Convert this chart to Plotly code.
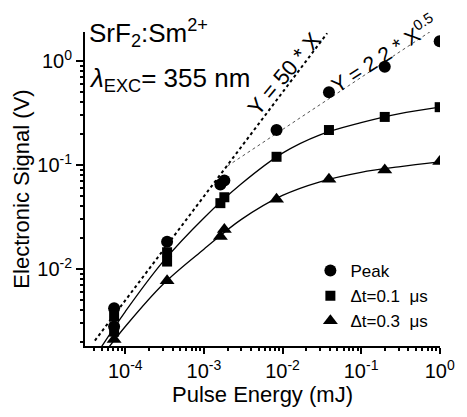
import plotly.graph_objects as go

# ---- data ----
peak_x = [7.2e-5, 7.2e-5, 3.4e-4, 1.62e-3, 1.82e-3, 8.4e-3, 0.039, 0.2, 1.0]
peak_y = [0.0042, 0.0028, 0.0183, 0.065, 0.071, 0.217, 0.50, 0.88, 1.55]

sq_x = [7.2e-5, 7.2e-5, 3.4e-4, 3.4e-4, 1.62e-3, 1.82e-3, 8.4e-3, 0.039, 0.2, 1.0]
sq_y = [0.0035, 0.0025, 0.0145, 0.0118, 0.043, 0.049, 0.12, 0.217, 0.29, 0.36]

tri_x = [7.2e-5, 3.4e-4, 1.62e-3, 1.82e-3, 8.4e-3, 0.039, 0.2, 1.0]
tri_y = [0.0021, 0.0077, 0.0205, 0.024, 0.047, 0.073, 0.0895, 0.108]

# fitted curves
fit_sq_x = [5.0e-5, 1e-4, 3e-4, 1e-3, 3e-3, 1e-2, 3e-2, 1e-1, 3e-1, 1.0]
fit_sq_y = [0.0018, 0.0039, 0.0117, 0.031, 0.066, 0.13, 0.195, 0.255, 0.31, 0.36]

fit_tri_x = [6.2e-5, 1e-4, 3e-4, 1e-3, 3e-3, 1e-2, 3e-2, 1e-1, 3e-1, 1.0]
fit_tri_y = [0.00178, 0.0028, 0.0071, 0.0155, 0.030, 0.051, 0.069, 0.085, 0.096, 0.107]

lin_x = [4.1e-5, 0.037]      # Y = 50 * X
lin_y = [0.00205, 1.85]
sqrt_x = [2.0e-3, 0.8]       # Y = 2.2 * X^0.5
sqrt_y = [0.098, 1.97]

x_ticks = [1e-4, 1e-3, 1e-2, 1e-1, 1.0]
x_tick_text = ["10<sup>-4</sup>", "10<sup>-3</sup>", "10<sup>-2</sup>", "10<sup>-1</sup>", "10<sup>0</sup>"]
y_ticks = [1e-2, 1e-1, 1.0]
y_tick_text = ["10<sup>-2</sup>", "10<sup>-1</sup>", "10<sup>0</sup>"]

FONT = "Liberation Sans, Arial, sans-serif"

fig = go.Figure()

fig.add_trace(go.Scatter(x=lin_x, y=lin_y, mode="lines",
                         line=dict(color="black", width=2, dash="dot"), showlegend=False))
fig.add_trace(go.Scatter(x=sqrt_x, y=sqrt_y, mode="lines",
                         line=dict(color="#555555", width=1, dash="dot"), showlegend=False))
fig.add_trace(go.Scatter(x=fit_sq_x, y=fit_sq_y, mode="lines", line_shape="spline",
                         line=dict(color="black", width=1.3), showlegend=False))
fig.add_trace(go.Scatter(x=fit_tri_x, y=fit_tri_y, mode="lines", line_shape="spline",
                         line=dict(color="black", width=1.3), showlegend=False))

fig.add_trace(go.Scatter(x=peak_x, y=peak_y, mode="markers", name="Peak",
                         marker=dict(symbol="circle", size=12, color="black")))
fig.add_trace(go.Scatter(x=sq_x, y=sq_y, mode="markers", name="\u0394t=0.1  \u03bcs",
                         marker=dict(symbol="square", size=10, color="black")))
fig.add_trace(go.Scatter(x=tri_x, y=tri_y, mode="markers", name="\u0394t=0.3  \u03bcs",
                         marker=dict(symbol="triangle-up", size=13, color="black")))

L, R, T, B = 85, 452, 32, 346
W, H = 467, 417


def px(xp):
    return (xp - L) / (R - L)


def py(yp):
    return (B - yp) / (B - T)


fig.update_layout(
    width=W, height=H,
    margin=dict(l=L, r=W - R, t=T, b=H - B),
    paper_bgcolor="white", plot_bgcolor="white",
    font=dict(family=FONT, color="black", size=19),
    xaxis=dict(type="log", range=[-4.513, 0.004],
               tickmode="array", tickvals=x_ticks, ticktext=x_tick_text,
               ticks="outside", ticklen=6, tickwidth=1.5, tickcolor="black",
               showline=True, linecolor="black", linewidth=2, mirror=False,
               showgrid=False, zeroline=False,
               minor=dict(ticks="outside", ticklen=3, tickcolor="black", dtick="D1", showgrid=False),
               tickfont=dict(size=20),
               title=dict(text="Pulse Energy (mJ)", font=dict(size=22), standoff=6)),
    yaxis=dict(type="log", range=[-2.74, 0.279],
               tickmode="array", tickvals=y_ticks, ticktext=y_tick_text,
               ticks="outside", ticklen=7, tickwidth=1.5, tickcolor="black",
               showline=True, linecolor="black", linewidth=2, mirror=False,
               showgrid=False, zeroline=False,
               minor=dict(ticks="outside", ticklen=3, tickcolor="black", dtick="D1", showgrid=False),
               tickfont=dict(size=20),
               title=dict(text="Electronic Signal (V)", font=dict(size=22), standoff=2)),
    legend=dict(x=px(318), y=py(253), xanchor="left", yanchor="top",
                bgcolor="rgba(0,0,0,0)", font=dict(size=17), itemwidth=30,
                tracegroupgap=0),
    annotations=[
        dict(xref="paper", yref="paper", x=px(87), y=py(33), xanchor="left", yanchor="middle",
             text="SrF<sub>2</sub>:Sm<sup>2+</sup>", showarrow=False, font=dict(size=26)),
        dict(xref="paper", yref="paper", x=px(87), y=py(79), xanchor="left", yanchor="middle",
             text="<i>\u03bb</i><sub>EXC</sub>= 355 nm", showarrow=False, font=dict(size=26)),
        dict(xref="paper", yref="paper", x=px(291), y=py(73), xanchor="center", yanchor="middle",
             text="Y = 50 * X", textangle=-50, showarrow=False, font=dict(size=22)),
        dict(xref="paper", yref="paper", x=px(394), y=py(53), xanchor="center", yanchor="middle",
             text="Y = 2.2 * X<sup>0.5</sup>", textangle=-33, showarrow=False, font=dict(size=21)),
    ],
)

fig.write_html("out.html")
